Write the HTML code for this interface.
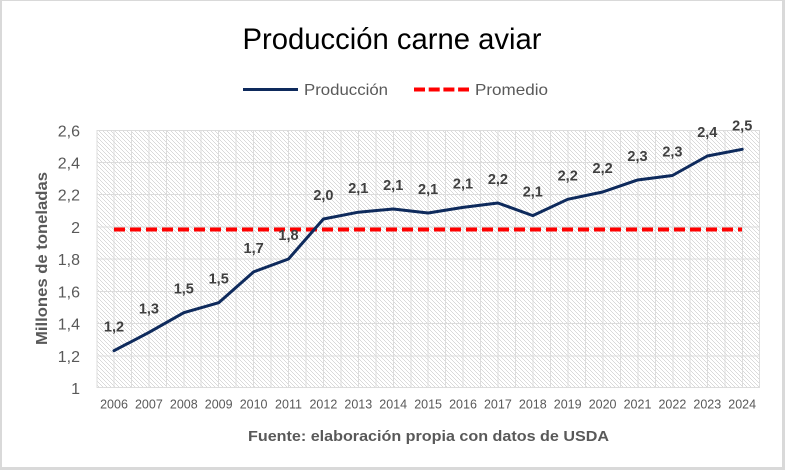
<!DOCTYPE html>
<html><head><meta charset="utf-8"><style>
html,body{margin:0;padding:0;background:#fff;}
svg{display:block;}
text{font-family:"Liberation Sans",sans-serif;}
</style></head><body>
<svg width="785" height="470" viewBox="0 0 785 470" xmlns="http://www.w3.org/2000/svg">
<defs>
<pattern id="hatch" patternUnits="userSpaceOnUse" width="4" height="4">
<rect x="0" y="0" width="1" height="1" fill="#dadada"/>
<rect x="1" y="1" width="1" height="1" fill="#dadada"/>
<rect x="2" y="2" width="1" height="1" fill="#dadada"/>
<rect x="3" y="3" width="1" height="1" fill="#dadada"/>
</pattern>
</defs>
<rect x="0" y="0" width="785" height="470" fill="#d9d9d9"/>
<rect x="2" y="1" width="780" height="466" fill="#ffffff"/>

<!-- plot area -->
<rect x="96.5" y="130" width="663" height="258" fill="url(#hatch)"/>
<g stroke="#dcdcdc" stroke-width="1" fill="none">
<path d="M96.5 130.5H759.5M96.5 162.5H759.5M96.5 194.5H759.5M96.5 227H759.5M96.5 259H759.5M96.5 291.5H759.5M96.5 323.5H759.5M96.5 356H759.5M96.5 387.5H759.5"/>
<path d="M97 130V388M114 130V388M131.5 130V388M149 130V388M166.5 130V388M184 130V388M201 130V388M218.5 130V388M236 130V388M253.5 130V388M271 130V388M288.5 130V388M306 130V388M323.5 130V388M341 130V388M358.5 130V388M376 130V388M393.5 130V388M411 130V388M428 130V388M445.5 130V388M463 130V388M480.5 130V388M498 130V388M515.5 130V388M533 130V388M550.5 130V388M568 130V388M585.5 130V388M603 130V388M620.5 130V388M638 130V388M655.5 130V388M673 130V388M690 130V388M707.5 130V388M725 130V388M742.5 130V388M759.5 130V388"/>
</g>

<!-- title -->
<text x="392" y="49" font-size="30" fill="#000" text-anchor="middle" textLength="299" lengthAdjust="spacingAndGlyphs">Producción carne aviar</text>

<!-- legend -->
<line x1="243" y1="89.5" x2="298" y2="89.5" stroke="#0e2a5c" stroke-width="3"/>
<text x="304" y="95" font-size="16" fill="#595959" textLength="84" lengthAdjust="spacingAndGlyphs">Producción</text>
<line x1="414" y1="89.5" x2="469" y2="89.5" stroke="#ff0000" stroke-width="4" stroke-dasharray="11 3.7"/>
<text x="475" y="95" font-size="16" fill="#595959" textLength="73" lengthAdjust="spacingAndGlyphs">Promedio</text>

<!-- y tick labels -->
<g font-size="16" fill="#595959" text-anchor="end">
<text x="80" y="136.5">2,6</text>
<text x="80" y="168.5">2,4</text>
<text x="80" y="200.5">2,2</text>
<text x="80" y="233">2</text>
<text x="80" y="265">1,8</text>
<text x="80" y="297.5">1,6</text>
<text x="80" y="329.5">1,4</text>
<text x="80" y="362">1,2</text>
<text x="80" y="394">1</text>
</g>

<!-- y axis title -->
<text transform="translate(47,258.5) rotate(-90)" font-size="16" font-weight="bold" fill="#595959" text-anchor="middle" textLength="173" lengthAdjust="spacingAndGlyphs">Millones de toneladas</text>

<!-- x labels -->
<g font-size="12.5" fill="#595959" text-anchor="middle">
<text x="114" y="408.5">2006</text>
<text x="148.9" y="408.5">2007</text>
<text x="183.8" y="408.5">2008</text>
<text x="218.7" y="408.5">2009</text>
<text x="253.6" y="408.5">2010</text>
<text x="288.5" y="408.5">2011</text>
<text x="323.4" y="408.5">2012</text>
<text x="358.3" y="408.5">2013</text>
<text x="393.2" y="408.5">2014</text>
<text x="428.1" y="408.5">2015</text>
<text x="463" y="408.5">2016</text>
<text x="497.9" y="408.5">2017</text>
<text x="532.8" y="408.5">2018</text>
<text x="567.7" y="408.5">2019</text>
<text x="602.6" y="408.5">2020</text>
<text x="637.5" y="408.5">2021</text>
<text x="672.4" y="408.5">2022</text>
<text x="707.3" y="408.5">2023</text>
<text x="742.2" y="408.5">2024</text>
</g>

<!-- footer -->
<text x="428.5" y="441" font-size="15" font-weight="bold" fill="#595959" text-anchor="middle" textLength="361" lengthAdjust="spacingAndGlyphs">Fuente: elaboración propia con datos de USDA</text>

<!-- average line -->
<line x1="114" y1="229.5" x2="742" y2="229.5" stroke="#ff0000" stroke-width="4" stroke-dasharray="11 5"/>

<!-- production line -->
<polyline fill="none" stroke="#0e2a5c" stroke-width="3" stroke-linejoin="round" stroke-linecap="round"
points="114,350.7 148.9,332.4 183.8,312.7 218.7,302.7 253.6,271.9 288.5,259 323.4,219 358.3,212.2 393.2,209 428.1,213 463,207.4 497.9,203 532.8,215.6 567.7,199.3 602.6,192 637.5,180 672.4,175.5 707.3,156 742.2,149.3"/>

<!-- data labels -->
<g font-size="14.5" font-weight="bold" fill="#404040" text-anchor="middle">
<text x="114" y="331.7">1,2</text>
<text x="148.9" y="313.4">1,3</text>
<text x="183.8" y="293.7">1,5</text>
<text x="218.7" y="283.7">1,5</text>
<text x="253.6" y="252.9">1,7</text>
<text x="288.5" y="240">1,8</text>
<text x="323.4" y="200">2,0</text>
<text x="358.3" y="193.2">2,1</text>
<text x="393.2" y="190">2,1</text>
<text x="428.1" y="194">2,1</text>
<text x="463" y="188.4">2,1</text>
<text x="497.9" y="184">2,2</text>
<text x="532.8" y="196.6">2,1</text>
<text x="567.7" y="180.3">2,2</text>
<text x="602.6" y="173">2,2</text>
<text x="637.5" y="161">2,3</text>
<text x="672.4" y="156.5">2,3</text>
<text x="707.3" y="137">2,4</text>
<text x="742.2" y="130.3">2,5</text>
</g>
</svg>
</body></html>
